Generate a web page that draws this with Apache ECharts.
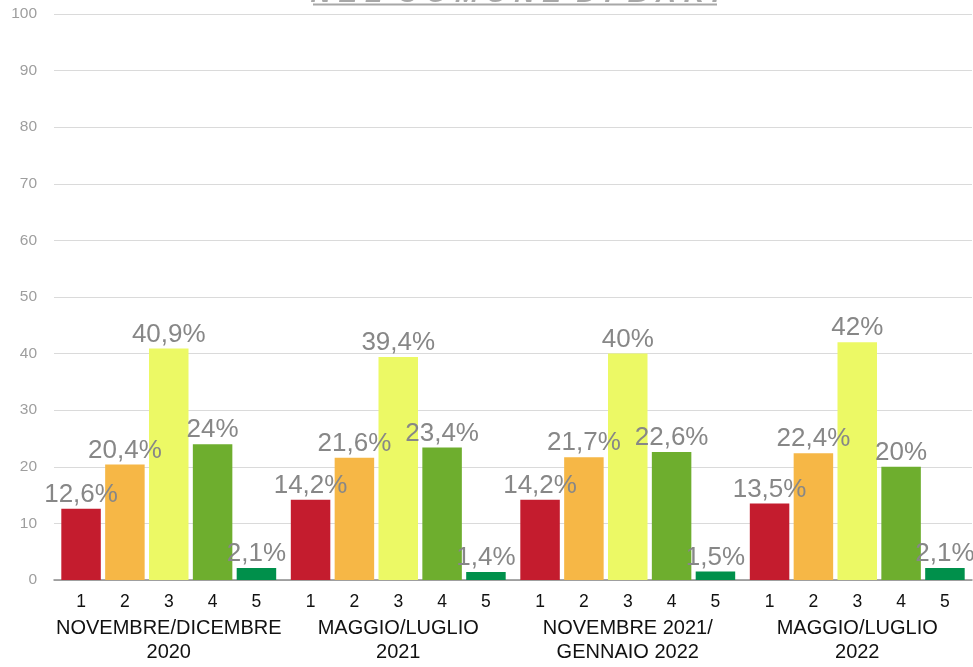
<!DOCTYPE html>
<html>
<head>
<meta charset="utf-8">
<script src="https://cdn.jsdelivr.net/npm/echarts@6/dist/echarts.min.js"></script>
<style>
  html, body { margin: 0; padding: 0; background: #fff; }
  #chart { width: 973px; height: 667px; }
</style>
</head>
<body>
<div id="chart"></div>
<script>
// Survey periods (x-axis groups) and the five answer classes inside each period
const periods = ['NOVEMBRE/DICEMBRE\n2020', 'MAGGIO/LUGLIO\n2021', 'NOVEMBRE 2021/\nGENNAIO 2022', 'MAGGIO/LUGLIO\n2022'];
const classes = ['1', '2', '3', '4', '5'];

// Percentages per class, one value per period
const class1 = [12.6, 14.2, 14.2, 13.5];
const class2 = [20.4, 21.6, 21.7, 22.4];
const class3 = [40.9, 39.4, 40, 42];
const class4 = [24, 23.4, 22.6, 20];
const class5 = [2.1, 1.4, 1.5, 2.1];

const yTicks = { min: 0, max: 100, interval: 10 };

const classValues = [class1, class2, class3, class4, class5];
const classColors = ['#C41C2E', '#F6B746', '#ECF965', '#6EAE2E', '#00904B'];

const FONT = '"Liberation Sans", Arial, Helvetica, sans-serif';

const series = [];
classValues.forEach((vals, i) => {
  // zero-height base bar that carries the class number under the axis
  series.push({
    name: 'n' + classes[i],
    type: 'bar',
    stack: 'c' + i,
    barWidth: 39.5,
    barGap: '11%',
    barCategoryGap: '6%',
    silent: true,
    itemStyle: { color: 'transparent' },
    label: {
      show: true,
      position: 'bottom',
      distance: 13,
      formatter: () => classes[i],
      color: '#111',
      fontSize: 17.5,
      fontFamily: FONT
    },
    data: vals.map(() => 0)
  });
  // the visible bar with its percentage on top
  series.push({
    name: classes[i],
    type: 'bar',
    stack: 'c' + i,
    barWidth: 39.5,
    barGap: '11%',
    barCategoryGap: '6%',
    itemStyle: { color: classColors[i] },
    label: {
      show: true,
      position: 'top',
      distance: 1,
      formatter: p => String(p.value).replace('.', ',') + '%',
      color: '#878787',
      fontSize: 26,
      fontFamily: FONT
    },
    data: vals
  });
});

const chart = echarts.init(document.getElementById('chart'), null, { renderer: 'canvas' });
chart.setOption({
  animation: false,
  backgroundColor: '#fff',
  grid: { left: 54, right: 1, top: 14, bottom: 87, containLabel: false },
  graphic: [
    {
      // title, mostly above the top edge of the page
      type: 'text',
      x: 515,
      y: 8,
      style: {
        text: 'N E L  C O M U N E  D I  B A R I',
        font: 'italic bold 28px ' + FONT,
        fill: '#A8A8A8',
        align: 'center',
        verticalAlign: 'bottom'
      }
    },
    {
      type: 'rect',
      x: 313,
      y: 3.5,
      shape: { width: 404, height: 2 },
      style: { fill: '#A8A8A8' }
    }
  ],
  xAxis: {
    type: 'category',
    data: periods,
    axisTick: { show: false },
    axisLine: { lineStyle: { color: '#8C8C8C', width: 1.5 } },
    axisLabel: {
      interval: 0,
      margin: 36,
      color: '#111',
      fontSize: 20,
      lineHeight: 24,
      fontFamily: FONT
    }
  },
  yAxis: {
    type: 'value',
    min: yTicks.min,
    max: yTicks.max,
    interval: yTicks.interval,
    axisLine: { show: false },
    axisTick: { show: false },
    splitLine: { lineStyle: { color: '#DADADA', width: 1 } },
    axisLabel: {
      margin: 17,
      color: '#9E9E9E',
      fontSize: 15.5,
      fontFamily: FONT
    }
  },
  series: series
});
</script>
</body>
</html>
